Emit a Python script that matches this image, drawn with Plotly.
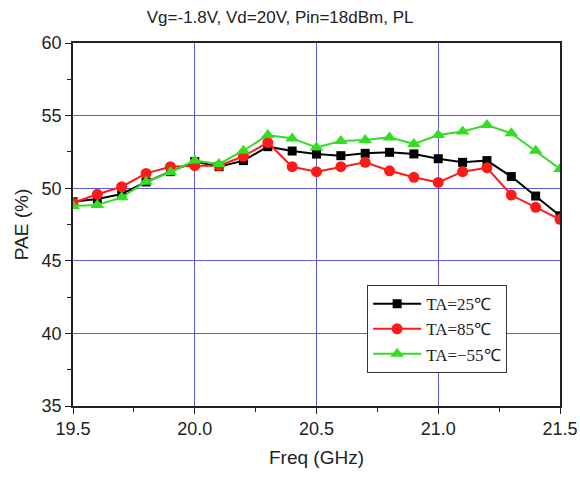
import plotly.graph_objects as go

freq = [19.5, 19.6, 19.7, 19.8, 19.9, 20.0, 20.1, 20.2, 20.3, 20.4, 20.5,
        20.6, 20.7, 20.8, 20.9, 21.0, 21.1, 21.2, 21.3, 21.4, 21.5]
pae_25 = [49.07, 49.25, 49.6, 50.43, 51.14, 51.83, 51.48, 51.9, 52.86, 52.56, 52.35,
          52.24, 52.4, 52.47, 52.36, 52.03, 51.78, 51.9, 50.8, 49.46, 48.1]
pae_85 = [49.0, 49.58, 50.1, 51.02, 51.48, 51.55, 51.55, 52.2, 53.14, 51.48, 51.14,
          51.48, 51.78, 51.2, 50.75, 50.4, 51.14, 51.41, 49.53, 48.68, 47.86]
pae_m55 = [48.77, 48.84, 49.37, 50.45, 51.1, 51.9, 51.67, 52.58, 53.66, 53.43, 52.8,
           53.25, 53.32, 53.5, 53.04, 53.66, 53.9, 54.35, 53.78, 52.58, 51.32]
names = ["TA=25℃", "TA=85℃", "TA=−55℃"]

fig = go.Figure()
fig.add_trace(go.Scatter(x=freq, y=pae_25, name=names[0], mode="lines+markers",
                         line=dict(color="black", width=2),
                         marker=dict(symbol="square", size=9, color="black")))
fig.add_trace(go.Scatter(x=freq, y=pae_85, name=names[1], mode="lines+markers",
                         line=dict(color="#ff1a1a", width=2),
                         marker=dict(symbol="circle", size=11, color="#ff1a1a")))
fig.add_trace(go.Scatter(x=freq, y=pae_m55, name=names[2], mode="lines+markers",
                         line=dict(color="#33dd22", width=2),
                         marker=dict(symbol="triangle-up", size=12, color="#33dd22")))

sans = "Liberation Sans, Arial, sans-serif"
axis_font = dict(family=sans, size=18, color="#222")
fig.update_layout(
    width=580, height=477,
    margin=dict(l=73, r=20, t=43, b=71),
    paper_bgcolor="white", plot_bgcolor="white",
    title=dict(text="Vg=-1.8V, Vd=20V, Pin=18dBm, PL", x=0.483, xanchor="center",
               y=1 - 17 / 477, yanchor="middle",
               font=dict(family=sans, size=17, color="#222")),
    legend=dict(x=0.604, y=0.333, xanchor="left", yanchor="top",
                bordercolor="#333", borderwidth=1, bgcolor="white",
                font=dict(family="Liberation Serif, Times New Roman, serif", size=17, color="#222"),
                tracegroupgap=0, itemwidth=48),
    showlegend=True,
)
fig.update_xaxes(range=[19.5, 21.5], tickvals=[19.5, 20.0, 20.5, 21.0, 21.5],
                 ticktext=["19.5", "20.0", "20.5", "21.0", "21.5"],
                 automargin=False,
                 showgrid=True, gridcolor="#5a5ad8", gridwidth=1,
                 showline=True, linecolor="#222", linewidth=1.5, mirror=True,
                 ticks="outside", ticklen=6, tickcolor="#222",
                 minor=dict(ticks="outside", ticklen=4, dtick=0.25, tick0=19.5, showgrid=False, tickcolor="#222"),
                 tickfont=axis_font, zeroline=False,
                 title=dict(text="Freq (GHz)", font=dict(family=sans, size=19, color="#222"), standoff=12))
fig.update_yaxes(range=[35, 60], dtick=5, tick0=35,
                 automargin=False,
                 showgrid=True, gridcolor="#5a5ad8", gridwidth=1,
                 showline=True, linecolor="#222", linewidth=1.5, mirror=True,
                 ticks="outside", ticklen=6, tickcolor="#222",
                 minor=dict(ticks="outside", ticklen=4, dtick=2.5, tick0=35, showgrid=False, tickcolor="#222"),
                 tickfont=axis_font, zeroline=False,
                 title=dict(text="PAE (%)", font=dict(family=sans, size=19, color="#222"), standoff=8))

fig.write_html("out.html")
